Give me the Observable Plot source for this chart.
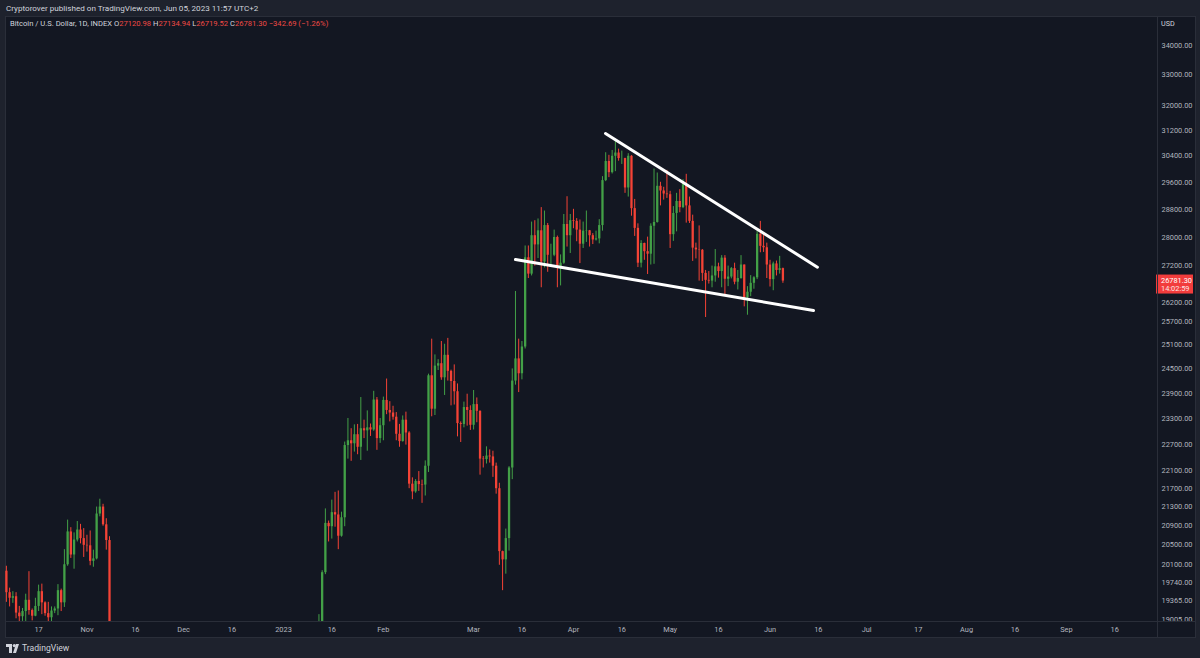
<!DOCTYPE html>
<html>
<head>
<meta charset="utf-8">
<script src="https://cdn.jsdelivr.net/npm/d3@7"></script>
<script src="https://cdn.jsdelivr.net/npm/@observablehq/plot@0.6"></script>
<style>
  html, body { margin: 0; padding: 0; width: 1200px; height: 658px; overflow: hidden; background: #1e222d; font-family: Roboto, "Noto Sans", sans-serif; }
  #header { position: absolute; left: 6px; top: 3px; font-size: 8.1px; color: #d1d4dc; white-space: nowrap; }
  #pane { position: absolute; left: 5px; top: 16px; width: 1189px; height: 620px; background: #131722; border: 1px solid #2a2e39; box-sizing: content-box; }
  #chart { position: absolute; left: 5px; top: 16px; }
  #vsep { position: absolute; left: 1157px; top: 16px; width: 1px; height: 621px; background: #2a2e39; }
  #hsep { position: absolute; left: 5px; top: 621px; width: 1190px; height: 1px; background: #2a2e39; }
  #legend { position: absolute; left: 10px; top: 19px; font-size: 7.6px; color: #d1d4dc; white-space: nowrap; }
  #legend .v { color: #f04a45; }
  #usd { position: absolute; left: 1161px; top: 19px; font-size: 7.2px; color: #d1d4dc; }
  #footer { position: absolute; left: 6px; top: 643px; font-size: 8.6px; color: #d1d4dc; white-space: nowrap; display: flex; align-items: center; gap: 3px; }
</style>
</head>
<body>
<div id="header">Cryptorover published on TradingView.com, Jun 05, 2023 11:57 UTC+2</div>
<div id="pane"></div>
<div id="chart"></div>
<div id="vsep"></div>
<div id="hsep"></div>
<div id="legend"></div>
<div id="usd">USD</div>
<div id="footer"><svg width="13" height="9" viewBox="0 0 13 9"><polygon points="0,0 6,0 6,9 3,9 3,3 0,3" fill="#d1d4dc"/><circle cx="8.3" cy="1.6" r="1.6" fill="#d1d4dc"/><polygon points="10,0 13,0 10,9 7,9" fill="#d1d4dc"/></svg><span>TradingView</span></div>
<script>
// ---------- DATA (BTC/USD INDEX, daily candles) ----------
// Oct 7 – Nov 8, 2022
const octNovStart = "2022-10-07";
const octNovOpen  = [19960,19530,19420,19450,19130,19060,19160,19380,19180,19070,19260,19550,19330,19120,19040,19170,19210,19570,19330,20090,20770,20290,20600,20810,20630,20490,20480,20160,20210,21150,21300,20920,20590];
const octNovHigh  = [20060,19620,19550,19530,19260,19220,19500,19950,19210,19420,19680,19700,19350,19340,19250,19250,19690,19600,20400,21020,20860,20750,20990,20930,20840,20700,20790,20390,21300,21470,21360,21050,20670];
const octNovLow   = [19340,19250,19320,19020,18860,18970,18190,19090,18980,19060,19160,19100,19070,18900,18660,19120,19080,19160,19240,20060,20220,20000,20560,20520,20240,20350,20070,20040,20190,21090,20890,20390,17170];
const octNovClose = [19530,19420,19450,19130,19060,19160,19380,19180,19070,19260,19550,19330,19120,19040,19170,19210,19570,19330,20090,20770,20290,20600,20810,20630,20490,20480,20160,20210,21150,21300,20920,20590,18540];

// Jan 12 – Jan 31, 2023
const janStart = "2023-01-12";
const janOpen  = [17940,18850,19930,20950,20880,21180,21130,20680,21070,22670,22780,22710,22920,22630,23060,23010,23080,23030,23740,22830];
const janHigh  = [19100,19970,21260,21000,21450,21620,21650,21190,22750,23300,23060,23150,23160,23800,23260,23480,23170,23950,23800,23300];
const janLow   = [17920,18720,19890,20560,20620,20870,20400,20660,20880,22360,22310,22520,22460,22330,22830,22540,22880,23000,22560,22720];
const janClose = [18850,19930,20950,20880,21180,21130,20680,21070,22670,22780,22710,22920,22630,23060,23010,23080,23030,23740,22830,23130];

// Feb 2023
const febStart = "2023-02-01";
const febOpen  = [23130,23730,23490,23430,23330,22930,22760,23260,22960,21800,21630,21860,21790,21780,22200,24330,23520,24570,24630,24280,24840,24440,24190,23940,23180,23160,23560,23490];
const febHigh  = [23810,24250,23700,23590,23440,23160,23360,23450,22990,21940,21900,22080,21890,22320,24370,25250,24850,24730,25190,25120,25270,24470,24600,24130,23220,23690,23880,23600];
const febLow   = [22780,23390,23220,23260,22780,22630,22750,22680,21700,21460,21600,21640,21380,21540,22060,23340,23370,24460,24220,23850,24200,23600,23620,22870,22740,23080,23120,23020];
const febClose = [23730,23490,23430,23330,22930,22760,23260,22960,21800,21630,21860,21790,21780,22200,24330,23520,24570,24630,24280,24840,24440,24190,23940,23180,23160,23560,23490,23140];

// Mar 2023
const marStart = "2023-03-01";
const marOpen  = [23140,23630,23470,22360,22350,22430,22410,22200,21700,20360,20190,20630,22160,24200,24750,24380,25050,27420,26970,28040,27780,28180,27300,28330,27490,27490,27990,27140,27270,28360,28040];
const marHigh  = [23970,23790,23480,22420,22640,22570,22540,22270,21820,20370,20830,22190,24500,26500,25250,25190,27750,27750,28430,28470,28520,28850,28750,28390,27800,28200,28030,27500,28650,29170,28650];
const marLow   = [23030,23200,22000,22160,22250,22270,21950,21580,20080,19570,19900,20370,21900,24100,23920,24230,25000,26850,26920,27190,27400,26600,27140,27020,27160,27450,26600,26650,27240,27720,27540];
const marClose = [23630,23470,22360,22350,22430,22410,22200,21700,20360,20190,20630,22160,24200,24750,24380,25050,27420,26970,28040,27780,28180,27300,28330,27490,27490,27990,27140,27270,28360,28040,28470];

// Apr 2023
const aprStart = "2023-04-01";
const aprOpen  = [28470,28450,28200,27800,28170,28180,28040,27920,27950,28330,29650,30230,29890,30390,30490,30320,30320,29430,30390,28820,28250,27270,27820,27590,27520,28310,28420,29480,29340,29250];
const aprHigh  = [28800,28530,28490,28430,28750,28190,28100,28170,28500,29770,30500,30420,30570,30900,30610,30550,30330,30470,30410,29090,28380,27900,27830,28000,28380,30000,29880,29600,29450,29960];
const aprLow   = [28240,27870,27260,27680,27850,27720,27790,27890,27810,28170,29620,29740,29850,29920,30240,30140,29270,29160,28600,28020,27150,27140,27350,26960,27220,27240,28400,28900,29070,29120];
const aprClose = [28450,28200,27800,28170,28180,28040,27920,27950,28330,29650,30230,29890,30390,30490,30320,30320,29430,30390,28820,28250,27270,27820,27590,27520,28310,28420,29480,29340,29250,29230];

// May 2023
const mayStart = "2023-05-01";
const mayOpen  = [29230,28070,28680,29030,28850,29530,28900,28450,27690,27640,27630,26990,26800,26780,26920,27170,27040,27410,26830,26890,27120,26750,26850,27220,26330,26480,26720,26870,28080,27740,27700];
const mayHigh  = [29330,28880,29270,29380,29680,29840,29160,28630,27830,28320,27650,27070,27040,27190,27650,27270,27480,27480,27190,27150,27270,27070,27480,27220,26630,26930,26900,28180,28450,28050,27830];
const mayLow   = [27680,27880,28150,28700,28820,28400,28390,27320,27390,26780,26770,25810,26700,26600,26750,26860,26600,26400,26630,26840,26680,26540,26830,26090,25870,26360,26560,26820,27560,27570,26850];
const mayClose = [28070,28680,29030,28850,29530,28900,28450,27690,27640,27630,26990,26800,26780,26920,27170,27040,27410,26830,26890,27120,26750,26850,27220,26330,26480,26720,26870,28080,27740,27700,27220];

// Jun 1 – Jun 5, 2023
const junStart = "2023-06-01";
const junOpen  = [27220,26820,27250,27070,27120.98];
const junHigh  = [27350,27300,27330,27460,27134.94];
const junLow   = [26620,26520,26920,26970,26719.52];
const junClose = [26820,27250,27070,27120,26781.30];

// Trend lines drawn on the chart (date, price)
const upperTrendDates  = ["2023-04-10T22:30Z", "2023-06-15T17:00Z"];
const upperTrendPrices = [31100, 27160];
const lowerTrendDates  = ["2023-03-14T00:00Z", "2023-06-14T12:00Z"];
const lowerTrendPrices = [27373, 25993];

// Axes
const yTicks = [34000,33000,32000,31200,30400,29600,28800,28000,27200,26200,25700,25100,24500,23900,23300,22700,22100,21700,21300,20900,20500,20100,19740,19365,19005];
const xTickDates  = ["2022-10-17","2022-11-01","2022-11-16","2022-12-01","2022-12-16","2023-01-01","2023-01-16","2023-02-01","2023-03-01","2023-03-16","2023-04-01","2023-04-16","2023-05-01","2023-05-16","2023-06-01","2023-06-16","2023-07-01","2023-07-17","2023-08-01","2023-08-16","2023-09-01","2023-09-16"];
const xTickLabels = ["17","Nov","16","Dec","16","2023","16","Feb","Mar","16","Apr","16","May","16","Jun","16","Jul","17","Aug","16","Sep","16"];
const xDomain = ["2022-10-06T17:17Z", "2023-09-29T06:14Z"];
const yDomain = [18968, 35014];
const countdown = "14:02:59";
const changeText = "\u2212342.69 (\u22121.26%)";

// ---------- BUILD ----------
const UP = "#43a047", DOWN = "#f44336";
const segments = [
  [octNovStart, octNovOpen, octNovHigh, octNovLow, octNovClose],
  [janStart, janOpen, janHigh, janLow, janClose],
  [febStart, febOpen, febHigh, febLow, febClose],
  [marStart, marOpen, marHigh, marLow, marClose],
  [aprStart, aprOpen, aprHigh, aprLow, aprClose],
  [mayStart, mayOpen, mayHigh, mayLow, mayClose],
  [junStart, junOpen, junHigh, junLow, junClose]
];
const rows = [];
for (const [start, O, H, L, C] of segments) {
  const t0 = new Date(start).getTime();
  O.forEach((o, i) => rows.push({date: new Date(t0 + i * 864e5), open: o, high: H[i], low: L[i], close: C[i]}));
}
const colorOf = d => d.close >= d.open ? UP : DOWN;

const trend = [
  ...upperTrendDates.map((d, i) => ({id: "upper", date: new Date(d), price: upperTrendPrices[i]})),
  ...lowerTrendDates.map((d, i) => ({id: "lower", date: new Date(d), price: lowerTrendPrices[i]}))
];

const last = rows[rows.length - 1];
const labelMap = new Map(xTickDates.map((d, i) => [+new Date(d), xTickLabels[i]]));

function priceTag(index, scales, values, dimensions) {
  const y = scales.y(last.close);
  const x0 = dimensions.width - dimensions.marginRight;
  const g = d3.create("svg:g").attr("text-anchor", "start");
  g.append("rect").attr("x", x0 - 1).attr("y", y - 6).attr("width", 37).attr("height", 19).attr("fill", "#f23c3c");
  g.append("text").attr("x", x0 + 4).attr("y", y).attr("dy", "0.32em").attr("fill", "#ffffff").attr("font-size", "7.4px").text(last.close.toFixed(2));
  g.append("text").attr("x", x0 + 4).attr("y", y + 8).attr("dy", "0.32em").attr("fill", "#ffe5e5").attr("font-size", "7.4px").text(countdown);
  return g.node();
}

const chart = Plot.plot({
  width: 1190,
  height: 621,
  marginLeft: 0,
  marginRight: 38,
  marginTop: 0,
  marginBottom: 16,
  style: {background: "transparent", color: "#b2b5be", fontSize: "7.4px", fontFamily: "Roboto, 'Noto Sans', sans-serif", overflow: "visible"},
  x: {type: "utc", domain: xDomain.map(d => new Date(d)), ticks: xTickDates.map(d => new Date(d)), tickFormat: d => labelMap.get(+d) ?? "", tickSize: 0, tickPadding: 5, label: null},
  y: {type: "log", domain: yDomain, axis: "right", ticks: yTicks, tickFormat: d => d.toFixed(2), tickSize: 0, tickPadding: 4, label: null},
  color: {type: "identity"},
  marks: [
    Plot.ruleX(rows, {x: "date", y1: "low", y2: "high", stroke: colorOf, strokeWidth: 1, clip: true}),
    Plot.ruleX(rows, {x: "date", y1: "open", y2: "close", stroke: colorOf, strokeWidth: 2.3, clip: true}),
    Plot.line(trend, {x: "date", y: "price", z: "id", stroke: "#ffffff", strokeWidth: 3}),
    priceTag
  ]
});
document.getElementById("chart").appendChild(chart);

// legend line from the last candle
const lg = document.getElementById("legend");
lg.innerHTML = `Bitcoin / U.S. Dollar, 1D, INDEX O<span class="v">${last.open.toFixed(2)}</span> H<span class="v">${last.high.toFixed(2)}</span> L<span class="v">${last.low.toFixed(2)}</span> C<span class="v">${last.close.toFixed(2)}</span> <span class="v">${changeText}</span>`;
</script>
</body>
</html>
